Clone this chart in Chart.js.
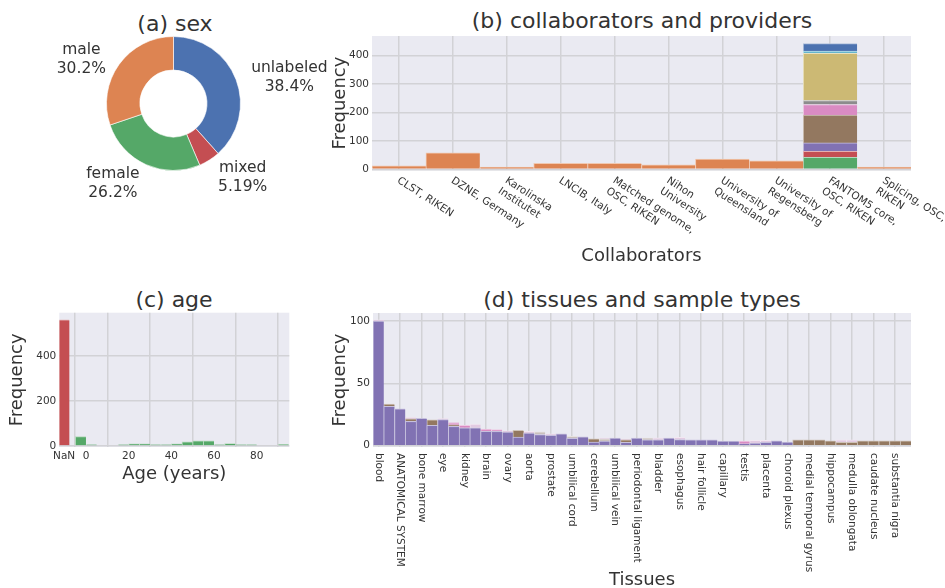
<!DOCTYPE html>
<html>
<head>
<meta charset="utf-8">
<title>Sample overview</title>
<script src="https://cdn.jsdelivr.net/npm/chart.js"></script>
<style>
  body {
    margin: 0;
    width: 945px;
    height: 588px;
    overflow: hidden;
    background: #ffffff;
    font-family: 'DejaVu Sans', sans-serif;
    position: relative;
  }
  canvas { position: absolute; }
  .title {
    position: absolute;
    width: 400px;
    font-size: 22px;
    line-height: 26px;
    color: #333;
    text-align: center;
    white-space: nowrap;
  }
</style>
</head>
<body>
  <div class="title" style="left:-25px; top:11px">(a) sex</div>
  <div class="title" style="left:442px; top:8px">(b) collaborators and providers</div>
  <div class="title" style="left:-26px; top:287px">(c) age</div>
  <div class="title" style="left:442px; top:287px">(d) tissues and sample types</div>

  <canvas id="sexChart" width="330" height="230" style="left:0; top:0"></canvas>
  <canvas id="collabChart" width="625" height="275" style="left:320px; top:0"></canvas>
  <canvas id="ageChart" width="320" height="215" style="left:0; top:280px"></canvas>
  <canvas id="tissueChart" width="625" height="330" style="left:320px; top:280px"></canvas>

<script>
// ---- data ----
const sexLabels = ['unlabeled', 'mixed', 'female', 'male'];
const sexShares = [38.4, 5.19, 26.2, 30.2];

const collaborators = [
  'CLST, RIKEN', 'DZNE, Germany', ['Karolinska', 'Institutet'], 'LNCIB, Italy',
  ['Matched genome,', 'OSC, RIKEN'], ['Nihon', 'University'], ['University of', 'Queensland'],
  ['University of', 'Regensberg'], ['FANTOM5 core,', 'OSC, RIKEN'], ['Splicing, OSC,', 'RIKEN']
];
const collabCounts = [12, 58, 8, 21, 21, 16, 36, 30, null, 8];
// FANTOM5 core stack, bottom to top
const fantomGreen = 42, fantomRed = 21, fantomPurple = 30, fantomBrown = 98, fantomPink = 37,
      fantomGrey = 14, fantomOlive = 166, fantomCyan = 8, fantomBlue = 26;
const collabTicks = [0, 100, 200, 300, 400];

const ageBinCentres = [-2.5, 2.5, 7.5, 12.5, 17.5, 22.5, 27.5, 32.5, 37.5, 42.5,
                       47.5, 52.5, 57.5, 62.5, 67.5, 72.5, 77.5, 82.5, 87.5, 92.5];
const ageCounts = [41, 5, 0, 0, 5, 9, 9, 5, 5, 9, 18, 22, 22, 5, 10, 5, 5, 0, 0, 6];
const ageNanX = -10.25;
const ageNanCount = 560;
const ageTickValues = [-10.25, 0, 20, 40, 60, 80];
const ageTickLabels = ['NaN', '0', '20', '40', '60', '80'];
const ageFreqTicks = [0, 200, 400];

const tissueNames = ['blood', 'ANATOMICAL SYSTEM', 'bone marrow', 'eye', 'kidney', 'brain', 'ovary',
  'aorta', 'prostate', 'umbilical cord', 'cerebellum', 'umbilical vein', 'periodontal ligament',
  'bladder', 'esophagus', 'hair follicle', 'capillary', 'testis', 'placenta', 'choroid plexus',
  'medial temporal gyrus', 'hippocampus', 'medulla oblongata', 'caudate nucleus', 'substantia nigra'];
const tissuePurple = [100, 31.5, 29.6, 19.5, 22, 16.3, 21, 15.5, 14.4, 14.4,
                      11.5, 11.5, 11, 6.9, 10.1, 9, 8.3, 9.6, 5.9, 7.2,
                      2.9, 3.7, 6.1, 2.7, 6.1, 4.8, 4.8, 6.1, 5, 4.8,
                      4.8, 4.8, 3.7, 3.7, 1.6, 1.9, 2.7, 4, 2.9, 0,
                      0, 0, 0, 0, 0, 0, 0, 0, 0, 0];
const tissueBrown = [0, 2, 0, 2, 0, 4.5, 0, 1.3, 0, 0,
                     0, 0, 0, 5.4, 0, 0, 0, 0, 0, 0,
                     2.7, 0, 0, 2.1, 0, 0, 0, 0, 0, 0,
                     0, 0, 0, 0, 0, 0, 0, 0, 0, 4.8,
                     4.8, 4.8, 4, 2.7, 2.7, 4, 4, 4, 4, 4];
const tissuePink = [0, 0, 0, 0, 0, 0, 0, 1.5, 1.9, 0,
                    1.8, 1.5, 0, 0, 0, 0, 0, 0, 0, 0,
                    0, 0, 0, 0, 0, 0, 0, 0, 0, 0,
                    0, 0, 0, 0, 2.1, 0, 0, 0, 0, 0,
                    0, 0, 0, 0, 0, 0, 0, 0, 0, 0];
const tissueGrey = [0, 0, 0, 0, 0, 0, 0, 0, 0, 0,
                    0, 0, 0, 0, 0, 2.2, 0, 0, 1.6, 0,
                    0, 1.9, 0, 0, 0, 1.3, 0, 0, 0, 0,
                    0, 0, 0, 0, 0, 0, 0, 0, 0, 0,
                    0, 0, 0, 0, 0, 0, 0, 0, 0, 0];
const tissuePale = [1, 0, 0, 1.3, 0, 0, 0.7, 0.7, 0, 2.9,
                    0, 0, 1, 0, 1.4, 0, 1.3, 0, 0, 0,
                    0, 0.7, 0, 0.8, 0, 0, 1.6, 0, 1.7, 0,
                    0, 0, 0, 0, 0, 2.4, 1.6, 0, 0, 0,
                    0, 0, 0, 2.1, 2.1, 0, 0, 0, 0, 0];
const tissueTicks = [0, 50, 100];

// ---- style ----
const GRID = '#d2d2d6';
const BG = '#eaeaf2';
const deep = {blue: '#4C72B0', orange: '#DD8452', green: '#55A868', red: '#C44E52', purple: '#8172B3',
              brown: '#937860', pink: '#DA8BC3', grey: '#8C8C8C', olive: '#CCB974', cyan: '#64B5CD'};

Chart.defaults.font.family = "'DejaVu Sans', sans-serif";
Chart.defaults.color = '#333';
Chart.defaults.animation = false;
Chart.defaults.plugins.legend.display = false;
Chart.defaults.plugins.tooltip.enabled = false;

function tint(hex, f) {
  const n = parseInt(hex.slice(1), 16);
  const m = c => Math.round(c + (255 - c) * f);
  return `rgb(${m(n >> 16 & 255)},${m(n >> 8 & 255)},${m(n & 255)})`;
}

function barSet(data, color) {
  return {
    data, backgroundColor: color, borderColor: tint(color, 0.55),
    borderWidth: {top: 1, left: 1, right: 0, bottom: 0},
    barPercentage: 1, categoryPercentage: 1
  };
}

const plotBg = {
  id: 'plotBg',
  beforeDraw(chart) {
    const {ctx, chartArea: a} = chart;
    ctx.save();
    ctx.fillStyle = BG;
    ctx.fillRect(a.left, a.top, a.width, a.height);
    ctx.restore();
  }
};

// x tick labels that start at the tick and run down to the right
const slantTicks = {
  id: 'slantTicks',
  afterDraw(chart, args, opts) {
    const sc = chart.scales.x, ctx = chart.ctx;
    ctx.save();
    ctx.font = "10.5px 'DejaVu Sans'";
    ctx.fillStyle = '#333';
    ctx.textAlign = 'left';
    ctx.textBaseline = opts.baseline;
    sc.ticks.forEach((t, i) => {
      const lab = chart.data.labels[i];
      if (!lab) return;
      const lines = Array.isArray(lab) ? lab : [lab];
      ctx.save();
      ctx.translate(sc.getPixelForTick(i) + opts.dx, sc.top + opts.dy);
      ctx.rotate(opts.angle * Math.PI / 180);
      lines.forEach((l, k) => ctx.fillText(l, 0, k * opts.lineHeight));
      ctx.restore();
    });
    ctx.restore();
  }
};

const sliceLabels = {
  id: 'sliceLabels',
  afterDatasetsDraw(chart) {
    const ctx = chart.ctx;
    ctx.save();
    ctx.font = "15.5px 'DejaVu Sans'";
    ctx.fillStyle = '#333';
    ctx.textAlign = 'center';
    ctx.textBaseline = 'middle';
    chart.getDatasetMeta(0).data.forEach((arc, i) => {
      const p = arc.getProps(['x', 'y', 'startAngle', 'endAngle', 'outerRadius'], true);
      const mid = (p.startAngle + p.endAngle) / 2;
      const d = p.outerRadius * 1.24;
      const px = p.x + Math.cos(mid) * d, py = p.y + Math.sin(mid) * d + 4;
      const lines = [sexLabels[i], sexShares[i] + '%'];
      const w = Math.max(...lines.map(l => ctx.measureText(l).width));
      const cx = Math.cos(mid) >= 0 ? px + w / 2 : px - w / 2;
      lines.forEach((l, k) => ctx.fillText(l, cx, py + (k - 0.5) * 19));
    });
    ctx.restore();
  }
};

function freqAxis(ticks, min, max, width, titlePad) {
  return {
    min, max, stacked: true,
    afterBuildTicks: s => { s.ticks = ticks.map(v => ({value: v})); },
    afterFit: s => { s.width = width; },
    ticks: {padding: 3, font: {size: 10.5}},
    grid: {color: GRID, lineWidth: 1.5, drawTicks: false},
    border: {display: false},
    title: {display: true, text: 'Frequency', font: {size: 18}, padding: {top: titlePad, bottom: 0}}
  };
}

// (a) sex
new Chart(document.getElementById('sexChart'), {
  type: 'doughnut',
  data: {
    labels: sexLabels,
    datasets: [{
      data: sexShares,
      backgroundColor: [deep.blue, deep.red, deep.green, deep.orange],
      borderColor: 'rgba(255,255,255,0.6)',
      borderWidth: 1
    }]
  },
  options: {
    responsive: false,
    cutout: '50%',
    layout: {padding: {left: 106, right: 89, top: 36, bottom: 59}}
  },
  plugins: [sliceLabels]
});

// (b) collaborators and providers
const fantomIdx = 8;
const onFantom = v => collaborators.map((_, i) => i === fantomIdx ? v : null);
new Chart(document.getElementById('collabChart'), {
  type: 'bar',
  data: {
    labels: collaborators,
    datasets: [
      barSet(collabCounts, deep.orange),
      barSet(onFantom(fantomGreen), deep.green),
      barSet(onFantom(fantomRed), deep.red),
      barSet(onFantom(fantomPurple), deep.purple),
      barSet(onFantom(fantomBrown), deep.brown),
      barSet(onFantom(fantomPink), deep.pink),
      barSet(onFantom(fantomGrey), deep.grey),
      barSet(onFantom(fantomOlive), deep.olive),
      barSet(onFantom(fantomCyan), deep.cyan),
      barSet(onFantom(fantomBlue), deep.blue)
    ]
  },
  options: {
    responsive: false,
    layout: {padding: {top: 36, right: 34, left: 0, bottom: 0}},
    scales: {
      x: {
        stacked: true, offset: true,
        grid: {offset: false, color: GRID, lineWidth: 1.5, drawTicks: false},
        border: {display: false},
        ticks: {display: false},
        afterFit: s => { s.height = 104.8; },
        title: {display: true, text: 'Collaborators', font: {size: 18}, padding: {top: 0, bottom: 8}}
      },
      y: freqAxis(collabTicks, -3, 469, 52, 9.2)
    },
    plugins: {slantTicks: {angle: 33, dx: 2, dy: 5, lineHeight: 12.5, baseline: 'top'}}
  },
  plugins: [plotBg, slantTicks]
});

// (c) age
new Chart(document.getElementById('ageChart'), {
  type: 'bar',
  data: {
    datasets: [
      barSet([{x: ageNanX, y: ageNanCount}], deep.red),
      barSet(ageBinCentres.map((x, i) => ({x, y: ageCounts[i]})), deep.green)
    ]
  },
  options: {
    responsive: false,
    layout: {padding: {top: 32.7, right: 30.7, left: 0, bottom: 0}},
    scales: {
      x: {
        type: 'linear', min: -12.5, max: 95.3, offset: false, stacked: true,
        afterBuildTicks: s => { s.ticks = ageTickValues.map(v => ({value: v})); },
        afterFit: s => { s.height = 48; },
        ticks: {padding: 3, font: {size: 10.5}, callback: (v, i) => ageTickLabels[i]},
        grid: {color: GRID, lineWidth: 1.5, drawTicks: false},
        border: {display: false},
        title: {display: true, text: 'Age (years)', font: {size: 18}, padding: {top: 0, bottom: 10}}
      },
      y: freqAxis(ageFreqTicks, -5, 592, 59.3, 6.7)
    }
  },
  plugins: [plotBg]
});

// (d) tissues and sample types
const tissueCategories = tissueNames.flatMap(t => [t, '']);
new Chart(document.getElementById('tissueChart'), {
  type: 'bar',
  data: {
    labels: tissueCategories,
    datasets: [
      barSet(tissuePurple, deep.purple),
      barSet(tissueBrown, deep.brown),
      barSet(tissuePink, deep.pink),
      barSet(tissueGrey, '#c9c0bd'),
      barSet(tissuePale, '#e2cbe2')
    ]
  },
  options: {
    responsive: false,
    layout: {padding: {top: 33, right: 34, left: 0, bottom: 0}},
    scales: {
      x: {
        stacked: true, offset: true,
        grid: {offset: false, lineWidth: 1.5, drawTicks: false,
               color: c => c.index % 2 ? 'rgba(0,0,0,0)' : GRID},
        border: {display: false},
        ticks: {display: false},
        afterFit: s => { s.height = 163; },
        title: {display: true, text: 'Tissues', font: {size: 18}, padding: {top: 0, bottom: 19}}
      },
      y: freqAxis(tissueTicks, -1, 106.4, 53, 9.2)
    },
    plugins: {slantTicks: {angle: 90, dx: 0, dy: 6, lineHeight: 12, baseline: 'middle'}}
  },
  plugins: [plotBg, slantTicks]
});
</script>
</body>
</html>
